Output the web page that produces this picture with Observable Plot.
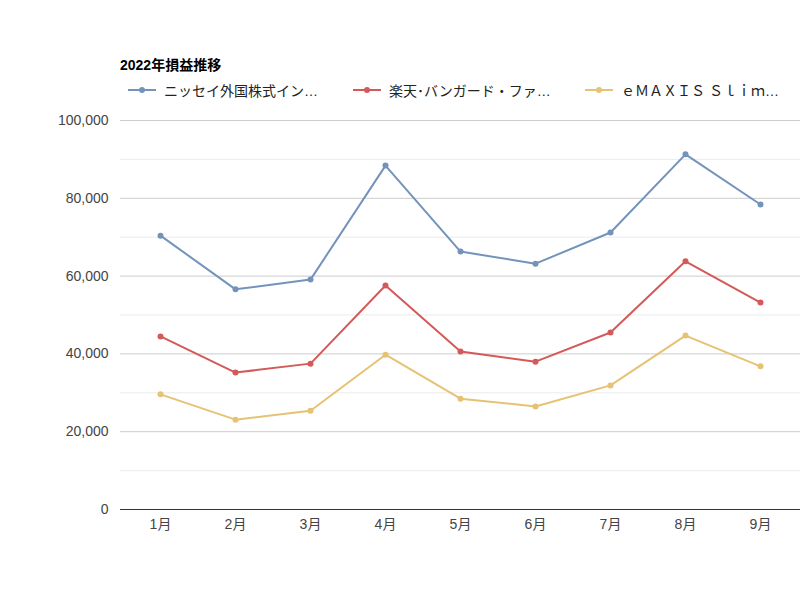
<!DOCTYPE html>
<html><head><meta charset="utf-8">
<script src="https://cdn.jsdelivr.net/npm/d3@7"></script>
<script src="https://cdn.jsdelivr.net/npm/@observablehq/plot@0.6"></script>
<style>
body{margin:0;font-family:"Liberation Sans","Noto Sans CJK JP",sans-serif;background:#fff}
#title{position:absolute;left:120px;top:54px;font-size:14px;font-weight:bold;color:#000}
.lg{position:absolute;top:80px;font-size:14px;color:#222;display:flex;align-items:center;white-space:nowrap}
.lg svg{margin-right:8px}
#chart{position:absolute;left:0;top:100px}
</style></head><body>
<div id="title">2022年損益推移</div>
<div id="legend"></div>
<div id="chart"></div>
<script>
const months=["1月","2月","3月","4月","5月","6月","7月","8月","9月"];
const seriesNames=["ニッセイ外国株式イン…","楽天･バンガード・ファ…","ｅＭＡＸＩＳ Ｓｌｉｍ…"];
const nissay=[70400,56600,59100,88400,66300,63200,71200,91300,78400];
const rakuten=[44500,35200,37500,57600,40600,38000,45500,63800,53200];
const emaxis=[29600,23100,25400,39800,28500,26500,31900,44700,36800];
const colors=["#7393bb","#d35a58","#e6c274"];
const legendX=[128,353,585];
const all=[nissay,rakuten,emaxis];
const data=[];
all.forEach((arr,i)=>arr.forEach((v,j)=>data.push({s:seriesNames[i],m:months[j],v})));
const lg=document.getElementById("legend");
seriesNames.forEach((n,i)=>{
  const d=document.createElement("div");d.className="lg";d.style.left=legendX[i]+"px";
  d.innerHTML=`<svg width="28" height="10"><line x1="0" y1="5" x2="28" y2="5" stroke="${colors[i]}" stroke-width="2"/><circle cx="14" cy="5" r="3" fill="${colors[i]}"/></svg>${n}`;
  lg.appendChild(d);
});
const chart=Plot.plot({
  width:800,height:450,marginLeft:120,marginRight:0,marginTop:20,marginBottom:41,
  style:{fontSize:"14px",fontFamily:"Liberation Sans, Noto Sans CJK JP, sans-serif",color:"#444"},
  x:{type:"point",domain:months,padding:0.5,label:null,tickSize:0,tickPadding:10},
  y:{domain:[0,100000],ticks:d3.range(0,100001,20000),tickFormat:d=>d3.format(",")(d),label:null,tickSize:0,tickPadding:12},
  color:{domain:seriesNames,range:colors},
  marks:[
    Plot.ruleY(d3.range(10000,100001,20000),{stroke:"#ebebeb",strokeOpacity:1}),
    Plot.ruleY(d3.range(20000,100001,20000),{stroke:"#cccccc",strokeOpacity:1}),
    Plot.ruleY([0],{stroke:"#333"}),
    Plot.line(data,{x:"m",y:"v",stroke:"s",strokeWidth:2}),
    Plot.dot(data,{x:"m",y:"v",fill:"s",r:3})
  ]
});
document.getElementById("chart").appendChild(chart);
</script></body></html>
